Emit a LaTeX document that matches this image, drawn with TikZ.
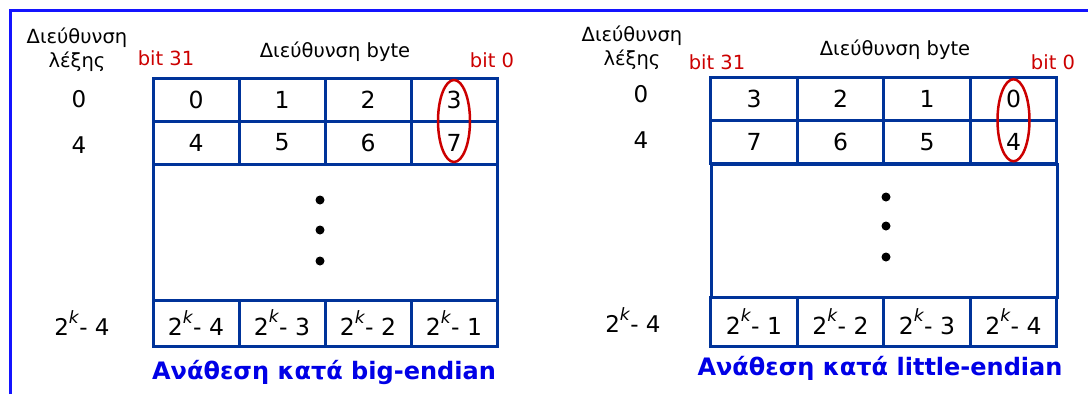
\documentclass[tikz,border=0pt]{standalone}
\usepackage{fontspec}
\setmainfont{DejaVu Sans}
\usetikzlibrary{positioning,calc,shapes.geometric}
\definecolor{memblue}{RGB}{0,51,153}
\definecolor{frameblue}{RGB}{20,20,255}
\definecolor{bitred}{RGB}{204,0,0}
\definecolor{capblue}{RGB}{0,0,230}
\newcommand{\kexp}{\raisebox{0.55em}{\fontsize{17}{17}\selectfont\textit{k}}}

\begin{document}
\begin{tikzpicture}[x=1pt, y=-1pt,
  cell/.style={draw=memblue, line width=3pt, outer sep=0pt, inner sep=0pt,
    minimum width=86pt, minimum height=43pt, font=\fontsize{23.5}{26}\selectfont},
  gap/.style={draw=memblue, line width=3pt, outer sep=0pt, inner sep=0pt},
  lbl/.style={font=\fontsize{19.5}{24}\selectfont, align=center, inner sep=0pt},
  num/.style={font=\fontsize{23}{26}\selectfont, inner sep=0pt},
  bit/.style={lbl, text=bitred},
  ring/.style={draw=bitred, line width=2.5pt, ellipse, inner sep=0pt,
    minimum width=32pt, minimum height=82pt},
  dot/.style={circle, fill=black, minimum size=9pt, inner sep=0pt},
  caption/.style={font=\bfseries\fontsize{24}{28}\selectfont, text=capblue,
    inner sep=0pt}]
\useasboundingbox (0,0) rectangle (1088,394);
% frame
\draw[frameblue, line width=3pt] (10,394) -- (10,10) -- (1088,10);

% big-endian
\node[lbl] (bigword) at (77,50) {Διεύθυνση\\λέξης};
\node[bit] (bigmsb) at (166,58) {bit 31};
\node[lbl] (bigbyte) at (335,52) {Διεύθυνση byte};
\node[bit] (biglsb) at (492,60) {bit 0};
\foreach \v [count=\i from 0] in {0,1,2,3}
  \node[cell] (bigA\i) at (196+86*\i, 99.5) {\v};
\foreach \v [count=\i from 0] in {4,5,6,7}
  \node[cell] (bigB\i) at (196+86*\i, 142.5) {\v};
\node[gap, minimum width=344pt, minimum height=136pt] (biggap) at (325,232) {};
\foreach \v [count=\i from 0] in {4,3,2,1}
  \node[cell, minimum height=46pt] (bigC\i) at (196+86*\i, 323) {2\kexp- \v};
\node[num] (bigrowA) at (79,99) {0};
\node[num] (bigrowB) at (79,145) {4};
\node[num] (bigrowC) at (82,323) {2\kexp- 4};
\foreach \y [count=\i] in {200,230,261}
  \node[dot] (bigdot\i) at (320,\y) {};
\node[ring] (bigring) at ($(bigA3)!0.5!(bigB3)$) {};
\node[caption] (bigcap) at (324,372) {Ανάθεση κατά big-endian};

% little-endian
\node[lbl] (litword) at (632,48) {Διεύθυνση\\λέξης};
\node[bit] (litmsb) at (717,62) {bit 31};
\node[lbl] (litbyte) at (895,50) {Διεύθυνση byte};
\node[bit] (litlsb) at (1053,62) {bit 0};
\foreach \v [count=\i from 0] in {3,2,1,0}
  \node[cell, minimum width=86.5pt] (litA\i) at (754+86.5*\i, 98.5) {\v};
\foreach \v [count=\i from 0] in {7,6,5,4}
  \node[cell, minimum width=86.5pt] (litB\i) at (754+86.5*\i, 142) {\v};
\node[gap, minimum width=346pt, minimum height=133pt] (litgap) at (884,230.5) {};
\foreach \v [count=\i from 0] in {1,2,3,4}
  \node[cell, minimum width=86.5pt, minimum height=49pt] (litC\i) at (754+86.5*\i, 321.5) {2\kexp- \v};
\node[num] (litrowA) at (641,94) {0};
\node[num] (litrowB) at (641,140) {4};
\node[num] (litrowC) at (633,320) {2\kexp- 4};
\foreach \y [count=\i] in {197,226,257}
  \node[dot] (litdot\i) at (886,\y) {};
\node[ring] (litring) at ($(litA3)!0.5!(litB3)$) {};
\node[caption] (litcap) at (880,368) {Ανάθεση κατά little-endian};
\end{tikzpicture}
\end{document}
